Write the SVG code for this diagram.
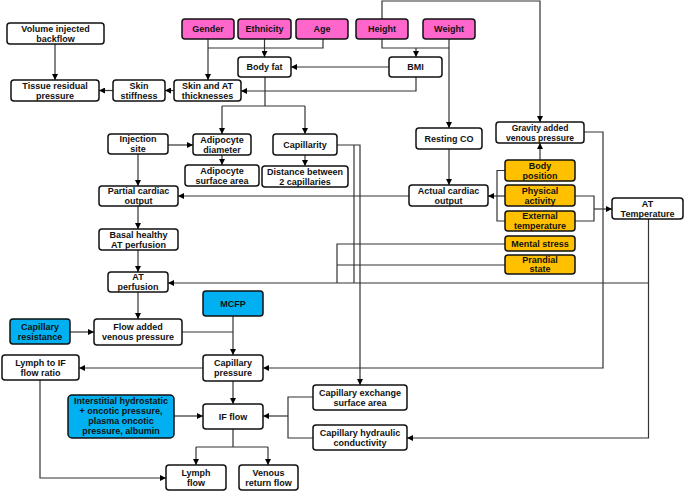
<svg xmlns="http://www.w3.org/2000/svg" width="685" height="492" viewBox="0 0 685 492">
<defs>
<marker id="a" markerWidth="6" markerHeight="6" refX="6" refY="3" orient="auto" markerUnits="userSpaceOnUse"><path d="M0,0 L6,3 L0,6 z" fill="#000"/></marker>
<style>
rect{fill:#fff;stroke:#111;stroke-width:1.5}
.p rect{fill:#FF66CC}
.o rect{fill:#FFC000}
.b rect{fill:#00B0F0}
text{font-family:"Liberation Sans",Arial,sans-serif;font-weight:bold;font-size:9px;text-anchor:middle;fill:#111}
#c path{fill:none;stroke:#333;stroke-width:1.2}
#c path.a{marker-end:url(#a)}
</style>
</defs>
<rect x="0" y="0" width="685" height="492" style="fill:#fff;stroke:none"/>
<g id="c">
<path class="a" d="M55,44 V80"/>
<path class="a" d="M113,90.5 H99"/>
<path class="a" d="M174,90.5 H165"/>
<path class="a" d="M208,39 V80"/>
<path d="M323,39 V48 H208"/>
<path class="a" d="M264.5,39 V57"/>
<path class="a" d="M382,19 V1 H540 V122"/>
<path d="M382,39 V48 H449"/>
<path class="a" d="M416,48 V57"/>
<path class="a" d="M449,39 V128"/>
<path class="a" d="M389,67 H291"/>
<path class="a" d="M416,77 V91 H241"/>
<path d="M265,77 V106 M222,106 H305"/>
<path class="a" d="M222,106 V134"/>
<path class="a" d="M305,106 V134"/>
<path class="a" d="M168,145 H193"/>
<path class="a" d="M222,155 V165"/>
<path class="a" d="M305,155 V166"/>
<path class="a" d="M337,145 H360 V385"/>
<path d="M354,145 V283"/>
<path class="a" d="M138,154 V186"/>
<path class="a" d="M409,196 H178"/>
<path class="a" d="M449,149 V185"/>
<path class="a" d="M138,206 V229"/>
<path class="a" d="M138,250 V272"/>
<path class="a" d="M648.5,219 V283 H168"/>
<path class="a" d="M648.5,283 V438 H407"/>
<path d="M505,244 H337 V283 M505,265 H337"/>
<path class="a" d="M540,160 V143"/>
<path d="M505,170.5 H497 V221 H505"/>
<path class="a" d="M505,196 H488"/>
<path d="M575,196 H594 V221 H575"/>
<path class="a" d="M594,209 H612"/>
<path class="a" d="M584,132 H603 V368 H263"/>
<path class="a" d="M233,316 V355"/>
<path d="M182,332 H233"/>
<path class="a" d="M138,292 V319"/>
<path class="a" d="M70,332 H94"/>
<path class="a" d="M203,368 H79"/>
<path class="a" d="M233,381 V404"/>
<path class="a" d="M174,416 H203"/>
<path d="M313,397 H288 V438 H313"/>
<path class="a" d="M288,416 H263"/>
<path d="M233,429 V447 M196,447 H268"/>
<path class="a" d="M196,447 V465"/>
<path class="a" d="M268,447 V465"/>
<path class="a" d="M40,380 V478 H166"/>
</g>
<g id="n1"><rect x="7" y="23" width="97" height="21" rx="3"/><text x="55.5" y="31.5">Volume injected</text><text x="55.5" y="41.5">backflow</text></g>
<g id="n2"><rect x="11" y="80" width="88" height="21" rx="3"/><text x="55" y="88.5">Tissue residual</text><text x="55" y="98.5">pressure</text></g>
<g id="n3"><rect x="113" y="80" width="52" height="21" rx="3"/><text x="139" y="88.5">Skin</text><text x="139" y="98.5">stiffness</text></g>
<g id="n4"><rect x="174" y="80" width="67" height="21" rx="3"/><text x="207.5" y="88.5">Skin and AT</text><text x="207.5" y="98.5">thicknesses</text></g>
<g id="n5" class="p"><rect x="182" y="19" width="52" height="20" rx="3"/><text x="208" y="32">Gender</text></g>
<g id="n6" class="p"><rect x="238" y="19" width="53" height="20" rx="3"/><text x="264.5" y="32">Ethnicity</text></g>
<g id="n7" class="p"><rect x="296" y="19" width="52" height="20" rx="3"/><text x="322" y="32">Age</text></g>
<g id="n8" class="p"><rect x="356" y="19" width="52" height="20" rx="3"/><text x="382" y="32">Height</text></g>
<g id="n9" class="p"><rect x="423" y="19" width="52" height="20" rx="3"/><text x="449" y="32">Weight</text></g>
<g id="n10"><rect x="238" y="57" width="53" height="20" rx="3"/><text x="264.5" y="70">Body fat</text></g>
<g id="n11"><rect x="389" y="57" width="53" height="20" rx="3"/><text x="415.5" y="70">BMI</text></g>
<g id="n12"><rect x="416" y="128" width="66" height="21" rx="3"/><text x="449" y="141.5">Resting CO</text></g>
<g id="n13"><rect x="496" y="122" width="88" height="21" rx="3"/><text x="540" y="130.5" style="font-size:8.5px">Gravity added</text><text x="540" y="140.5" style="font-size:8.5px">venous pressure</text></g>
<g id="n14"><rect x="108" y="134" width="60" height="20" rx="3"/><text x="138" y="142">Injection</text><text x="138" y="152">site</text></g>
<g id="n15"><rect x="193" y="134" width="58" height="21" rx="3"/><text x="222" y="142.5">Adipocyte</text><text x="222" y="152.5">diameter</text></g>
<g id="n16"><rect x="273" y="134" width="64" height="21" rx="3"/><text x="305" y="147.5">Capillarity</text></g>
<g id="n17"><rect x="185" y="165" width="74" height="21" rx="3"/><text x="222" y="173.5">Adipocyte</text><text x="222" y="183.5">surface area</text></g>
<g id="n18"><rect x="262" y="166" width="86" height="21" rx="3"/><text x="305" y="174.5">Distance between</text><text x="305" y="184.5">2 capillaries</text></g>
<g id="n19"><rect x="99" y="186" width="79" height="20" rx="3"/><text x="138.5" y="194">Partial cardiac</text><text x="138.5" y="204">output</text></g>
<g id="n20"><rect x="99" y="229" width="79" height="21" rx="3"/><text x="138.5" y="237.5">Basal healthy</text><text x="138.5" y="247.5">AT perfusion</text></g>
<g id="n21"><rect x="108" y="272" width="60" height="20" rx="3"/><text x="138" y="280">AT</text><text x="138" y="290">perfusion</text></g>
<g id="n22"><rect x="409" y="185" width="79" height="21" rx="3"/><text x="448.5" y="193.5">Actual cardiac</text><text x="448.5" y="203.5">output</text></g>
<g id="n23" class="o"><rect x="505" y="160" width="70" height="21" rx="3"/><text x="540" y="168.5">Body</text><text x="540" y="178.5">position</text></g>
<g id="n24" class="o"><rect x="505" y="185" width="70" height="21" rx="3"/><text x="540" y="193.5">Physical</text><text x="540" y="203.5">activity</text></g>
<g id="n25" class="o"><rect x="505" y="211" width="70" height="20" rx="3"/><text x="540" y="219">External</text><text x="540" y="229">temperature</text></g>
<g id="n26" class="o"><rect x="505" y="236" width="70" height="15" rx="3"/><text x="540" y="246.5">Mental stress</text></g>
<g id="n27" class="o"><rect x="505" y="255" width="70" height="19" rx="3"/><text x="540" y="262.5">Prandial</text><text x="540" y="272">state</text></g>
<g id="n28"><rect x="612" y="198" width="71" height="21" rx="3"/><text x="647.5" y="206.5">AT</text><text x="647.5" y="216.5">Temperature</text></g>
<g id="n29" class="b"><rect x="203" y="291" width="60" height="25" rx="3"/><text x="233" y="306.5">MCFP</text></g>
<g id="n30" class="b"><rect x="10" y="319" width="60" height="25" rx="3"/><text x="40" y="329.5">Capillary</text><text x="40" y="339.5">resistance</text></g>
<g id="n31"><rect x="94" y="319" width="88" height="26" rx="3"/><text x="138" y="330">Flow added</text><text x="138" y="340">venous pressure</text></g>
<g id="n32"><rect x="2" y="355" width="77" height="25" rx="3"/><text x="40.5" y="365.5">Lymph to IF</text><text x="40.5" y="375.5">flow ratio</text></g>
<g id="n33"><rect x="203" y="355" width="60" height="26" rx="3"/><text x="233" y="366">Capillary</text><text x="233" y="376">pressure</text></g>
<g id="n34" class="b"><rect x="68" y="395" width="106" height="43" rx="4"/><text x="121" y="403.5">Interstitial hydrostatic</text><text x="121" y="413.5">+ oncotic pressure,</text><text x="121" y="423.5">plasma oncotic</text><text x="121" y="433.5">pressure, albumin</text></g>
<g id="n35"><rect x="203" y="404" width="60" height="25" rx="3"/><text x="233" y="419.5">IF flow</text></g>
<g id="n36"><rect x="313" y="385" width="94" height="25" rx="3"/><text x="360" y="395.5">Capillary exchange</text><text x="360" y="405.5">surface area</text></g>
<g id="n37"><rect x="313" y="425" width="94" height="25" rx="3"/><text x="360" y="435.5">Capillary hydraulic</text><text x="360" y="445.5">conductivity</text></g>
<g id="n38"><rect x="166" y="465" width="60" height="25" rx="3"/><text x="196" y="475.5">Lymph</text><text x="196" y="485.5">flow</text></g>
<g id="n39"><rect x="239" y="465" width="59" height="25" rx="3"/><text x="268.5" y="475.5">Venous</text><text x="268.5" y="485.5">return flow</text></g>
</svg>
